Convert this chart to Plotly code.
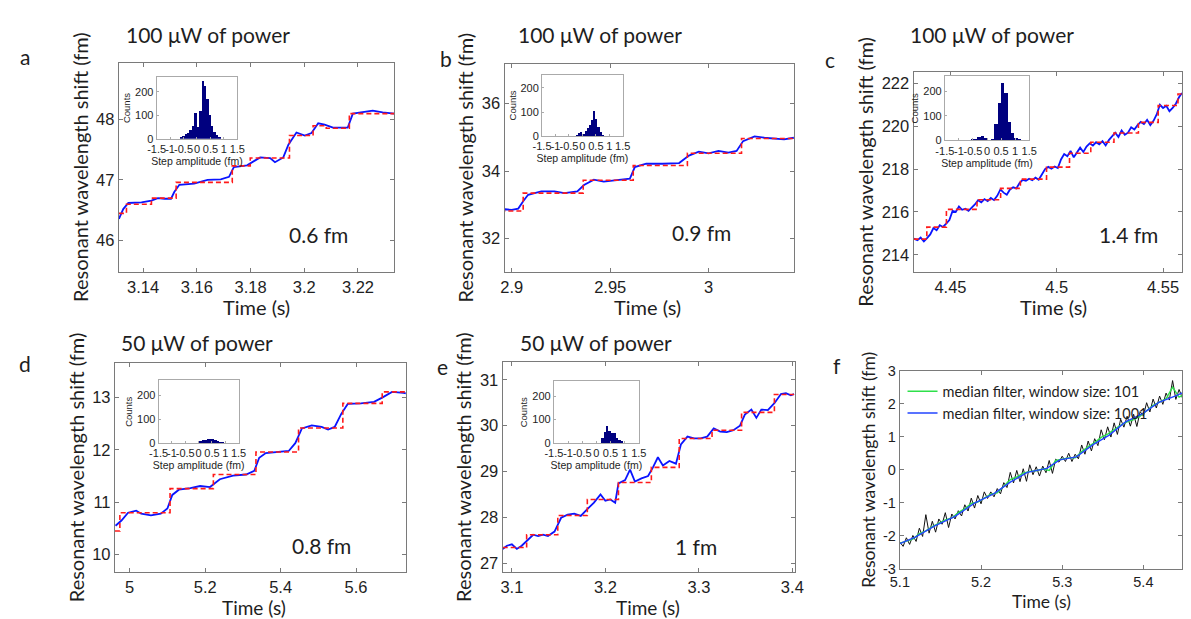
import plotly.graph_objects as go

W, H = 1191, 619

# ------------------------------------------------------------------ DATA
# panel a (100 uW)
a_step_edges = [3.1310, 3.1338, 3.1431, 3.1523, 3.1732, 3.1799, 3.1945, 3.2033, 3.2082, 3.2168, 3.2338]
a_step_levels = [46.45, 46.60, 46.70, 46.96, 47.23, 47.36, 47.73, 47.89, 47.85, 48.09]
a_blue = [(3.1310, 46.36), (3.1326, 46.52), (3.1345, 46.62), (3.1394, 46.63), (3.1431, 46.66),
          (3.1455, 46.70), (3.1480, 46.69), (3.1504, 46.69), (3.1516, 46.80), (3.1535, 46.92),
          (3.1590, 46.94), (3.1640, 47.00), (3.1689, 47.01), (3.1720, 47.05), (3.1738, 47.21),
          (3.1787, 47.24), (3.1836, 47.37), (3.1873, 47.36), (3.1891, 47.29), (3.1922, 47.37),
          (3.1941, 47.58), (3.1971, 47.78), (3.2002, 47.73), (3.2027, 47.77), (3.2052, 47.93),
          (3.2076, 47.91), (3.2107, 47.86), (3.2162, 47.86), (3.2181, 48.09), (3.2218, 48.11),
          (3.2255, 48.14), (3.2292, 48.11), (3.2336, 48.09)]
a_hist_centers = [-0.60, -0.51, -0.42, -0.34, -0.25, -0.16, -0.07, 0.02, 0.11, 0.20, 0.29, 0.38, 0.46, 0.55, 0.64, 0.73, 0.82]
a_hist_counts = [4, 10, 18, 26, 38, 55, 108, 50, 118, 245, 225, 170, 100, 55, 30, 14, 4]

# panel b (100 uW)
b_step_edges = [2.8942, 2.9058, 2.9363, 2.9617, 2.9892, 3.0167, 3.0433]
b_step_levels = [32.82, 33.35, 33.73, 34.17, 34.53, 34.97]
b_blue = [(2.8942, 32.79), (2.8967, 32.87), (2.9000, 32.85), (2.9033, 32.89), (2.9058, 33.11),
          (2.9083, 33.30), (2.9150, 33.40), (2.9217, 33.40), (2.9267, 33.35), (2.9333, 33.40),
          (2.9367, 33.59), (2.9417, 33.75), (2.9467, 33.69), (2.9533, 33.73), (2.9600, 33.78),
          (2.9625, 34.12), (2.9683, 34.22), (2.9767, 34.22), (2.9850, 34.24), (2.9900, 34.46),
          (2.9950, 34.58), (3.0000, 34.53), (3.0050, 34.60), (3.0100, 34.55), (3.0142, 34.60),
          (3.0175, 34.89), (3.0233, 35.03), (3.0283, 34.99), (3.0333, 34.96), (3.0383, 34.94),
          (3.0433, 34.99)]
b_hist_centers = [-0.20, -0.12, -0.04, 0.04, 0.12, 0.20, 0.28, 0.36, 0.44, 0.52, 0.60, 0.68, 0.76, 0.84]
b_hist_counts = [8, 15, 18, 10, 25, 35, 50, 70, 105, 75, 40, 20, 8, 3]

# panel c (100 uW)
c_step_edges = [4.4327, 4.4389, 4.4481, 4.4625, 4.4736, 4.4829, 4.4952, 4.5060, 4.5160, 4.5269,
                4.5384, 4.5477, 4.5570, 4.5589]
c_step_levels = [214.73, 215.29, 216.12, 216.57, 217.10, 217.53, 218.09, 218.74, 219.25, 219.68,
                 220.18, 220.97, 221.50]
c_blue = [(4.4327, 214.75), (4.4345, 214.68), (4.4360, 214.80), (4.4375, 214.62), (4.4390, 214.78),
          (4.4405, 214.95), (4.4420, 215.25), (4.4435, 215.15), (4.4450, 215.38), (4.4465, 215.30),
          (4.4480, 215.45), (4.4495, 215.62), (4.4510, 216.05), (4.4525, 216.00), (4.4540, 216.25),
          (4.4555, 216.10), (4.4570, 216.15), (4.4585, 216.05), (4.4600, 216.20), (4.4615, 216.35),
          (4.4630, 216.55), (4.4645, 216.45), (4.4660, 216.60), (4.4675, 216.50), (4.4690, 216.65),
          (4.4705, 216.55), (4.4720, 216.75), (4.4735, 217.05), (4.4750, 216.90), (4.4765, 216.80),
          (4.4780, 217.05), (4.4795, 217.15), (4.4810, 217.10), (4.4825, 217.35), (4.4840, 217.50),
          (4.4855, 217.45), (4.4870, 217.55), (4.4885, 217.48), (4.4900, 217.60), (4.4915, 217.50),
          (4.4930, 217.75), (4.4945, 218.00), (4.4960, 218.10), (4.4975, 218.02), (4.4990, 218.12),
          (4.5005, 218.05), (4.5020, 218.45), (4.5035, 218.70), (4.5050, 218.60), (4.5065, 218.85),
          (4.5080, 218.55), (4.5095, 218.75), (4.5110, 219.00), (4.5125, 218.80), (4.5140, 219.05),
          (4.5155, 219.20), (4.5170, 219.10), (4.5185, 219.25), (4.5200, 219.15), (4.5215, 219.30),
          (4.5230, 219.10), (4.5245, 219.35), (4.5260, 219.55), (4.5275, 219.70), (4.5290, 219.50),
          (4.5305, 219.80), (4.5320, 219.60), (4.5335, 219.70), (4.5350, 219.95), (4.5365, 219.85),
          (4.5380, 220.05), (4.5395, 220.20), (4.5410, 220.10), (4.5425, 220.30), (4.5440, 220.05),
          (4.5455, 220.25), (4.5470, 220.55), (4.5485, 221.00), (4.5500, 220.85), (4.5515, 220.95),
          (4.5530, 220.70), (4.5545, 220.85), (4.5560, 221.05), (4.5575, 221.35), (4.5589, 221.55)]
c_hist_centers = [-0.53, -0.41, -0.29, -0.17, -0.05, 0.07, 0.19, 0.31, 0.43, 0.55, 0.67, 0.79, 0.91, 1.03, 1.15]
c_hist_counts = [2, 5, 13, 17, 8, 1, 3, 68, 150, 235, 192, 74, 30, 10, 3]

# panel d (50 uW)
d_step_edges = [4.9610, 4.9739, 5.1069, 5.2217, 5.3346, 5.4475, 5.5649, 5.6692, 5.7320]
d_step_levels = [10.45, 10.80, 11.26, 11.53, 11.96, 12.42, 12.89, 13.11]
d_blue = [(4.9624, 10.55), (4.9781, 10.65), (4.9956, 10.80), (5.0172, 10.84), (5.0303, 10.78),
          (5.0563, 10.75), (5.0824, 10.78), (5.0999, 10.88), (5.1129, 11.14), (5.1304, 11.24),
          (5.1607, 11.27), (5.1867, 11.31), (5.2128, 11.29), (5.2389, 11.44), (5.2738, 11.51),
          (5.3085, 11.53), (5.3302, 11.60), (5.3432, 11.85), (5.3607, 11.94), (5.3954, 11.96),
          (5.4214, 11.98), (5.4389, 12.13), (5.4564, 12.41), (5.4825, 12.47), (5.5086, 12.44),
          (5.5258, 12.39), (5.5433, 12.44), (5.5607, 12.69), (5.5779, 12.88), (5.6129, 12.89),
          (5.6476, 12.92), (5.6692, 13.00), (5.6953, 13.11), (5.7258, 13.09), (5.7320, 13.08)]
d_hist_centers = [-0.01, 0.08, 0.17, 0.26, 0.35, 0.44, 0.53, 0.62, 0.71, 0.80, 0.89]
d_hist_counts = [5, 8, 10, 13, 15, 16, 14, 10, 6, 3, 1]

# panel e (50 uW)
e_step_edges = [3.0902, 3.1158, 3.1491, 3.1807, 3.2140, 3.2492, 3.2790, 3.3141, 3.3457, 3.3808, 3.4019]
e_step_levels = [27.34, 27.62, 28.04, 28.39, 28.76, 29.09, 29.72, 29.90, 30.29, 30.68]
e_blue = [(3.0902, 27.31), (3.0947, 27.38), (3.1000, 27.41), (3.1053, 27.31), (3.1105, 27.38),
          (3.1176, 27.52), (3.1228, 27.62), (3.1281, 27.59), (3.1333, 27.62), (3.1386, 27.59),
          (3.1456, 27.69), (3.1527, 27.99), (3.1597, 28.06), (3.1667, 28.08), (3.1737, 28.03),
          (3.1807, 28.18), (3.1878, 28.32), (3.1948, 28.50), (3.2000, 28.36), (3.2053, 28.39),
          (3.2105, 28.32), (3.2140, 28.74), (3.2211, 28.81), (3.2264, 29.04), (3.2316, 28.78),
          (3.2386, 28.85), (3.2457, 28.90), (3.2509, 29.09), (3.2562, 29.31), (3.2615, 29.13),
          (3.2685, 29.23), (3.2755, 29.17), (3.2808, 29.59), (3.2878, 29.76), (3.2948, 29.72),
          (3.3019, 29.72), (3.3089, 29.76), (3.3159, 29.94), (3.3229, 29.87), (3.3299, 29.86),
          (3.3369, 29.90), (3.3440, 30.00), (3.3492, 30.24), (3.3562, 30.35), (3.3615, 30.17),
          (3.3668, 30.35), (3.3738, 30.34), (3.3808, 30.49), (3.3878, 30.69), (3.3931, 30.71),
          (3.3984, 30.66), (3.4019, 30.69)]
e_hist_centers = [0.21, 0.30, 0.38, 0.47, 0.56, 0.64, 0.73, 0.82, 0.90]
e_hist_counts = [20, 46, 72, 52, 42, 40, 20, 12, 5]

# panel f (raw data + median filters)
f_raw = [(5.100, -2.19), (5.104, -2.32), (5.108, -2.06), (5.112, -2.26), (5.116, -1.99), (5.120, -2.17),
         (5.124, -1.77), (5.128, -2.02), (5.132, -1.36), (5.136, -1.92), (5.140, -1.56), (5.144, -1.89),
         (5.148, -1.49), (5.152, -1.65), (5.156, -1.30), (5.160, -1.75), (5.164, -1.34), (5.168, -1.49),
         (5.172, -1.24), (5.176, -1.40), (5.180, -1.06), (5.184, -1.25), (5.188, -0.86), (5.192, -1.16),
         (5.196, -0.78), (5.200, -1.03), (5.204, -0.67), (5.208, -0.87), (5.212, -0.67), (5.216, -0.82),
         (5.220, -0.57), (5.224, -0.73), (5.228, -0.39), (5.232, -0.54), (5.236, -0.08), (5.240, -0.40),
         (5.244, -0.02), (5.248, -0.36), (5.252, 0.03), (5.256, -0.35), (5.260, 0.15), (5.264, -0.15),
         (5.268, 0.09), (5.272, -0.19), (5.276, 0.11), (5.280, -0.09), (5.284, 0.28), (5.288, -0.11),
         (5.292, 0.32), (5.296, 0.23), (5.300, 0.41), (5.304, 0.25), (5.308, 0.50), (5.312, 0.25),
         (5.316, 0.47), (5.320, 0.33), (5.324, 0.75), (5.328, 0.47), (5.332, 0.87), (5.336, 0.57),
         (5.340, 0.94), (5.344, 0.73), (5.348, 1.21), (5.352, 0.91), (5.356, 1.30), (5.360, 0.99),
         (5.364, 1.42), (5.368, 1.07), (5.372, 1.53), (5.376, 1.29), (5.380, 1.62), (5.384, 1.32),
         (5.388, 1.68), (5.392, 1.31), (5.396, 1.76), (5.400, 1.63), (5.404, 2.03), (5.408, 1.75),
         (5.412, 2.14), (5.416, 1.87), (5.420, 2.23), (5.424, 1.98), (5.428, 2.32), (5.432, 2.11),
         (5.436, 2.70), (5.440, 2.13), (5.444, 2.43), (5.448, 2.18)]
f_med101 = [(5.100, -2.22), (5.108, -2.17), (5.116, -2.10), (5.124, -1.93), (5.132, -1.85), (5.140, -1.72),
            (5.148, -1.63), (5.156, -1.52), (5.164, -1.46), (5.172, -1.30), (5.180, -1.18), (5.188, -1.02),
            (5.196, -0.98), (5.204, -0.85), (5.212, -0.74), (5.220, -0.70), (5.228, -0.50), (5.236, -0.30),
            (5.244, -0.22), (5.252, -0.10), (5.260, -0.05), (5.268, -0.03), (5.276, 0.02), (5.284, -0.02),
            (5.292, 0.28), (5.300, 0.32), (5.308, 0.36), (5.316, 0.36), (5.324, 0.55), (5.332, 0.70),
            (5.340, 0.82), (5.348, 0.98), (5.356, 1.08), (5.364, 1.22), (5.372, 1.35), (5.380, 1.45),
            (5.388, 1.52), (5.396, 1.62), (5.404, 1.78), (5.412, 1.95), (5.420, 2.05), (5.428, 2.15),
            (5.436, 2.50), (5.444, 2.20), (5.448, 2.25)]
f_med1001 = [(5.100, -2.24), (5.119, -2.04), (5.143, -1.70), (5.168, -1.41), (5.192, -1.01), (5.216, -0.72),
             (5.2365, -0.37), (5.257, -0.08), (5.281, 0.04), (5.297, 0.30), (5.3175, 0.39), (5.338, 0.76),
             (5.358, 1.05), (5.378, 1.45), (5.3985, 1.69), (5.419, 2.04), (5.439, 2.23), (5.448, 2.33)]

# axis ranges / ticks
ranges_x = {'a': [3.1310, 3.2336], 'b': [2.8964, 3.0435], 'c': [4.4327, 4.5589],
            'd': [4.961, 5.732], 'e': [3.0902, 3.4026], 'f': [5.1, 5.4476]}
ranges_y = {'a': [45.49, 48.93], 'b': [31.02, 37.19], 'c': [213.21, 222.53],
            'd': [9.66, 13.67], 'e': [26.80, 31.39], 'f': [-3, 3]}
xticks = {'a': ([3.14, 3.16, 3.18, 3.2, 3.22], ['3.14', '3.16', '3.18', '3.2', '3.22']),
          'b': ([2.9, 2.95, 3.0], ['2.9', '2.95', '3']),
          'c': ([4.45, 4.5, 4.55], ['4.45', '4.5', '4.55']),
          'd': ([5.0, 5.2, 5.4, 5.6], ['5', '5.2', '5.4', '5.6']),
          'e': ([3.1, 3.2, 3.3, 3.4], ['3.1', '3.2', '3.3', '3.4']),
          'f': ([5.1, 5.2, 5.3, 5.4], ['5.1', '5.2', '5.3', '5.4'])}
yticks = {'a': ([46, 47, 48], ['46', '47', '48']),
          'b': ([32, 34, 36], ['32', '34', '36']),
          'c': ([214, 216, 218, 220, 222], ['214', '216', '218', '220', '222']),
          'd': ([10, 11, 12, 13], ['10', '11', '12', '13']),
          'e': ([27, 28, 29, 30, 31], ['27', '28', '29', '30', '31']),
          'f': ([-3, -2, -1, 0, 1, 2, 3], ['-3', '-2', '-1', '0', '1', '2', '3'])}
inset_xticks = ([-1.5, -1, -0.5, 0, 0.5, 1, 1.5], ['-1.5', '-1', '-0.5', '0', '0.5', '1', '1.5'])
inset_yticks = ([0, 100, 200], ['0', '100', '200'])
inset_yrange = {'a': [0, 262], 'b': [0, 255], 'c': [0, 262], 'd': [0, 262], 'e': [0, 262]}

power_titles = {'a': '100 μW of power', 'b': '100 μW of power', 'c': '100 μW of power',
                'd': '50 μW of power', 'e': '50 μW of power'}
step_labels = {'a': '0.6 fm', 'b': '0.9 fm', 'c': '1.4 fm', 'd': '0.8 fm', 'e': '1 fm'}
legend_names = ['median filter, window size: 101', 'median filter, window size: 1001']
x_title = 'Time (s)'
y_title = 'Resonant wavelength shift (fm)'

# ------------------------------------------------------------------ LAYOUT (pixels)
main_box = {'a': (110.7, 390.7, 56, 270.7), 'b': (502.7, 797, 57, 270.7), 'c': (918.3, 1191, 65.7, 270.7),
            'd': (106.7, 402.3, 364, 579.3), 'e': (500.7, 797.5, 363.3, 579.3), 'f': (904.3, 1191, 372.3, 575.7)}
inset_box = {'a': (149, 231, 71, 134.3), 'b': (540.7, 622.7, 68.3, 131.7), 'c': (950, 1035.7, 70, 136),
             'd': (151, 232.3, 382.3, 446.7), 'e': (552.7, 639, 383.3, 446.7)}
title_pos = {'a': (201.7, 27), 'b': (600, 27), 'c': (998, 27), 'd': (190, 343), 'e': (595, 343)}
letter_pos = {'a': (15, 50), 'b': (443, 52), 'c': (833, 53), 'd': (15, 365), 'e': (440, 368), 'f': (840, 367)}
steplab_pos = {'a': (313, 233), 'b': (703, 230), 'c': (1137, 233), 'd': (317, 552), 'e': (697, 553)}
xtitle_pos = {'a': (250, 307, 20), 'b': (648, 307, 20), 'c': (1060, 307, 20),
              'd': (248, 615, 19), 'e': (648, 615, 19), 'f': (1048, 609, 17.5)}


def dx(p0, p1):
    return [p0 / W, p1 / W]


def dy(p0, p1):
    return [1 - p1 / H, 1 - p0 / H]


TICKF = 'Liberation Sans, Arial'
NARROW = 'Liberation Sans Narrow, Arial Narrow, Liberation Sans, Arial'
HUM = 'Lato, Open Sans, sans-serif'
FRAME = '#7a7a7a'
TXT = '#1e1e1e'

fig = go.Figure()
layout = dict(width=W, height=H, margin=dict(l=0, r=0, t=0, b=0),
              paper_bgcolor='white', plot_bgcolor='white', showlegend=True,
              annotations=[], bargap=0)

order = ['a', 'b', 'c', 'd', 'e', 'f']
for i, k in enumerate(order, start=1):
    xa = 'xaxis' if i == 1 else f'xaxis{i}'
    ya = 'yaxis' if i == 1 else f'yaxis{i}'
    xr = 'x' if i == 1 else f'x{i}'
    yr = 'y' if i == 1 else f'y{i}'
    x0, x1, y0, y1 = main_box[k]
    small = (k == 'f')
    tickfont = dict(family=TICKF, size=14.5 if small else 16.5, color=TXT)
    layout[xa] = dict(domain=dx(x0, x1), anchor=yr, range=ranges_x[k], tickmode='array',
                      tickvals=xticks[k][0], ticktext=xticks[k][1], ticks='inside', ticklen=4,
                      tickcolor=FRAME, showline=True, linecolor=FRAME, linewidth=1.3, mirror='ticks',
                      showgrid=False, zeroline=False, tickfont=tickfont, tickangle=0)
    layout[ya] = dict(domain=dy(y0, y1), anchor=xr, range=ranges_y[k], tickmode='array',
                      tickvals=yticks[k][0], ticktext=yticks[k][1], ticks='inside', ticklen=4,
                      tickcolor=FRAME, showline=True, linecolor=FRAME, linewidth=1.3, mirror='ticks',
                      showgrid=False, zeroline=False, tickfont=tickfont,
                      title=dict(text=y_title,
                                 font=dict(family=HUM, size=17.5 if small else 20, color=TXT),
                                 standoff=2))

    if k != 'f':
        edges = globals()[f'{k}_step_edges']
        levels = globals()[f'{k}_step_levels']
        blue = globals()[f'{k}_blue']
        bt, bv = zip(*blue)
        fig.add_trace(go.Scatter(x=list(bt), y=list(bv), mode='lines',
                                 line=dict(color='#0a14ff', width=1.8),
                                 xaxis=xr, yaxis=yr, showlegend=False, hoverinfo='skip'))
        fig.add_trace(go.Scatter(x=edges, y=levels + [levels[-1]], mode='lines', line_shape='hv',
                                 line=dict(color='#ff1a1a', width=1.6, dash='5px,3px'),
                                 xaxis=xr, yaxis=yr, showlegend=False, hoverinfo='skip'))
    else:
        rt, rv = zip(*f_raw)
        fig.add_trace(go.Scatter(x=list(rt), y=list(rv), mode='lines', line=dict(color='#111111', width=1),
                                 xaxis=xr, yaxis=yr, showlegend=False, hoverinfo='skip'))
        gt, gv = zip(*f_med101)
        fig.add_trace(go.Scatter(x=list(gt), y=list(gv), mode='lines', line=dict(color='#2ee04a', width=1.4),
                                 xaxis=xr, yaxis=yr, name=legend_names[0], showlegend=True))
        ut, uv = zip(*f_med1001)
        fig.add_trace(go.Scatter(x=list(ut), y=list(uv), mode='lines', line=dict(color='#2244ff', width=1.4),
                                 xaxis=xr, yaxis=yr, name=legend_names[1], showlegend=True))

# insets
for j, k in enumerate(['a', 'b', 'c', 'd', 'e'], start=7):
    xa, ya, xr, yr = f'xaxis{j}', f'yaxis{j}', f'x{j}', f'y{j}'
    x0, x1, y0, y1 = inset_box[k]
    tf = dict(family=NARROW, size=11, color=TXT)
    layout[xa] = dict(domain=dx(x0, x1), anchor=yr, range=[-1.5, 1.5], tickmode='array',
                      tickvals=inset_xticks[0], ticktext=inset_xticks[1], ticks='inside', ticklen=2,
                      tickcolor='#aaaaaa', showline=True, linecolor='#aaaaaa', linewidth=1, mirror=True,
                      showgrid=False, zeroline=False, tickfont=tf, tickangle=0,
                      title=dict(text='Step amplitude (fm)', font=dict(family='Liberation Sans, Arial', size=10.5, color=TXT),
                                 standoff=0))
    layout[ya] = dict(domain=dy(y0, y1), anchor=xr, range=inset_yrange[k], tickmode='array',
                      tickvals=inset_yticks[0], ticktext=inset_yticks[1], ticks='inside', ticklen=2,
                      tickcolor='#aaaaaa', showline=True, linecolor='#aaaaaa', linewidth=1, mirror=True,
                      showgrid=False, zeroline=False, tickfont=tf,
                      title=dict(text='Counts', font=dict(family='Liberation Sans, Arial', size=9.5, color=TXT),
                                 standoff=2))
    centers = globals()[f'{k}_hist_centers']
    counts = globals()[f'{k}_hist_counts']
    width = centers[1] - centers[0]
    fig.add_trace(go.Bar(x=centers, y=counts, width=[width] * len(centers), marker=dict(color='#00007f', line=dict(width=0)),
                         xaxis=xr, yaxis=yr, showlegend=False, hoverinfo='skip'))

ann = []
for k, txt in power_titles.items():
    x, y = title_pos[k]
    ann.append(dict(text=txt, x=x / W, y=1 - y / H, xref='paper', yref='paper', showarrow=False,
                    xanchor='center', yanchor='middle', font=dict(family=HUM, size=21, color=TXT)))
for k, (x, y) in letter_pos.items():
    ann.append(dict(text=k, x=x / W, y=1 - y / H, xref='paper', yref='paper', showarrow=False,
                    xanchor='center', yanchor='middle', font=dict(family=HUM, size=21, color=TXT)))
for k, txt in step_labels.items():
    x, y = steplab_pos[k]
    ann.append(dict(text=txt, x=x / W, y=1 - y / H, xref='paper', yref='paper', showarrow=False,
                    xanchor='center', yanchor='middle', font=dict(family=HUM, size=21, color=TXT)))
for k, (x, y, fs) in xtitle_pos.items():
    ann.append(dict(text=x_title, x=x / W, y=1 - y / H, xref='paper', yref='paper', showarrow=False,
                    xanchor='center', yanchor='middle', font=dict(family=HUM, size=fs, color=TXT)))
layout['annotations'] = ann
layout['legend'] = dict(x=907 / W, y=1 - 377 / H, xanchor='left', yanchor='top', bgcolor='rgba(0,0,0,0)',
                        font=dict(family=HUM, size=14.5, color=TXT), itemwidth=30, tracegroupgap=0,
                        itemclick=False)

fig.update_layout(**layout)
fig.write_html('out.html')
